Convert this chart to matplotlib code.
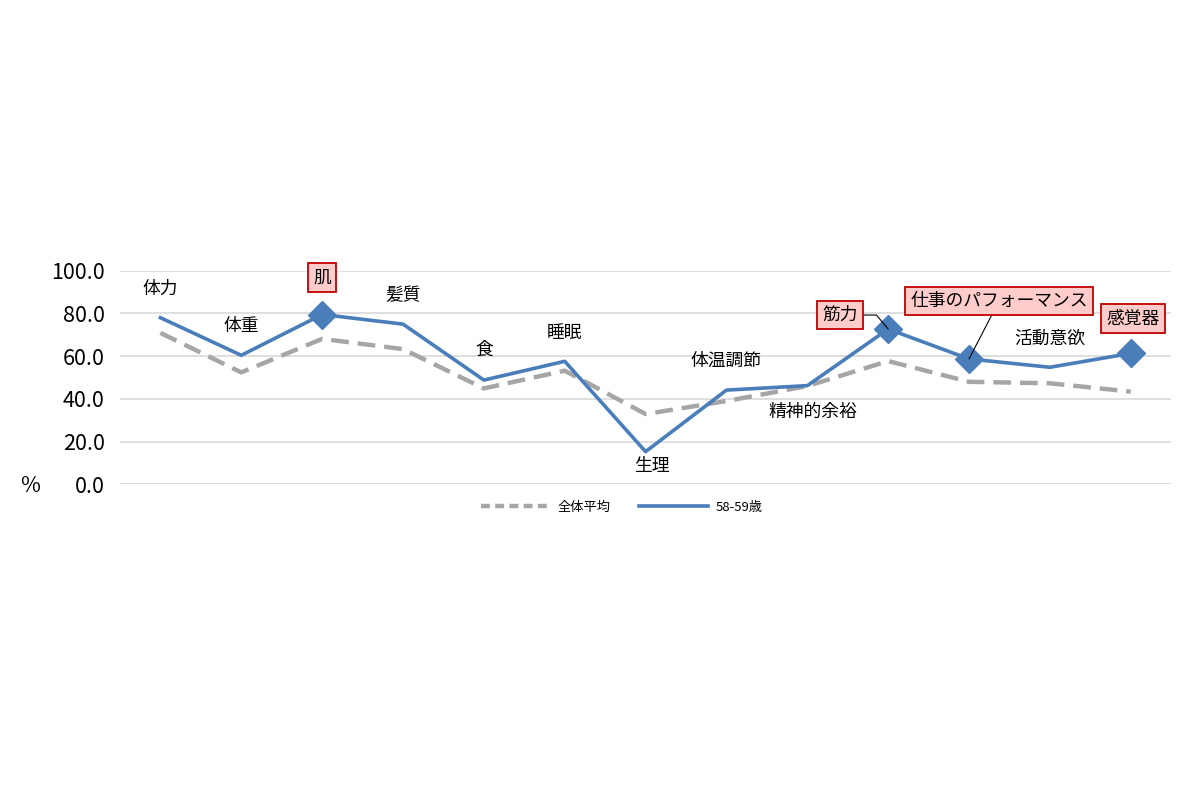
import matplotlib
matplotlib.use("Agg")
import matplotlib.pyplot as plt
from matplotlib.lines import Line2D

plt.rcParams['font.family'] = ['Noto Sans CJK JP', 'DejaVu Sans']

categories = ["体力", "体重", "肌", "髪質", "食", "睡眠", "生理", "体温調節",
              "精神的余裕", "筋力", "仕事のパフォーマンス", "活動意欲", "感覚器"]
avg_all = [70.9, 52.4, 68.1, 63.3, 44.9, 53.2, 32.9, 39.0, 46.0, 57.7, 48.0, 47.3, 43.4]
age_58_59 = [78.0, 60.4, 79.5, 75.0, 48.8, 57.6, 15.3, 44.1, 46.2, 72.7, 58.7, 54.8, 61.3]
highlight = ["肌", "筋力", "仕事のパフォーマンス", "感覚器"]

# label offsets in pixels (dx, dy) from the blue point, y up
label_off = {
    "体力": (0, 29), "体重": (0, 29), "肌": (0, 37), "髪質": (0, 29),
    "食": (0, 30), "睡眠": (0, 28), "生理": (6, -14), "体温調節": (0, 29),
    "精神的余裕": (5, -26), "筋力": (-48, 14), "仕事のパフォーマンス": (30, 58),
    "活動意欲": (0, 28), "感覚器": (2, 35),
}

blue = "#4A7EBB"
gray = "#A6A6A6"

fig = plt.figure(figsize=(12, 8), dpi=100)
ax = fig.add_axes([0.1, 0.3946, 0.876, 0.267])

x = list(range(len(categories)))
ax.plot(x, avg_all, color=gray, lw=3.2, ls=(0, (4, 2)), zorder=2)
ax.plot(x, age_58_59, color=blue, lw=2.6, zorder=3)
hx = [i for i, c in enumerate(categories) if c in highlight]
ax.plot(hx, [age_58_59[i] for i in hx], ls="none", marker="D", ms=14,
        color=blue, zorder=4)

ax.set_xlim(-0.5, len(categories) - 0.5)
ax.set_ylim(0, 100)
ax.set_yticks([0, 20, 40, 60, 80, 100])
ax.set_yticklabels([f"{v:.1f}" for v in [0, 20, 40, 60, 80, 100]], fontsize=15.5)
ax.set_xticks([])
ax.tick_params(axis="y", length=0, pad=11)
ax.grid(axis="y", color="#D9D9D9", lw=1.2)
for s in ax.spines.values():
    s.set_visible(False)
ax.set_axisbelow(True)

fig.text(0.017, 1 - 486 / 800, "%", fontsize=15.5, va="center", ha="left")

for i, c in enumerate(categories):
    dx, dy = label_off[c]
    kw = dict(textcoords="offset pixels", ha="center", va="center",
              fontsize=12.8, annotation_clip=False, zorder=5)
    if c in highlight:
        kw["bbox"] = dict(boxstyle="square,pad=0.3", fc="#FFCCCC",
                          ec="#C00000", lw=1.3)
    if c == "筋力":
        kw["arrowprops"] = dict(arrowstyle="-", color="black", lw=0.8,
                                shrinkA=0, shrinkB=0,
                                connectionstyle="angle,angleA=0,angleB=130,rad=0")
    if c == "仕事のパフォーマンス":
        kw["arrowprops"] = dict(arrowstyle="-", color="black", lw=0.8,
                                shrinkA=0, shrinkB=0)
    ax.annotate(c, (i, age_58_59[i]), xytext=(dx, dy), **kw)

handles = [Line2D([], [], color=gray, lw=3.2, ls=(0, (2, 1.2))),
           Line2D([], [], color=blue, lw=2.6)]
fig.legend(handles, ["全体平均", "58-59歳"], loc="center",
           bbox_to_anchor=(622 / 1200, 1 - 507 / 800), ncol=2, frameon=False,
           fontsize=9.5, handlelength=5.2, columnspacing=2.2, handletextpad=0.6)

fig.savefig("out.png", dpi=100, facecolor="white")
